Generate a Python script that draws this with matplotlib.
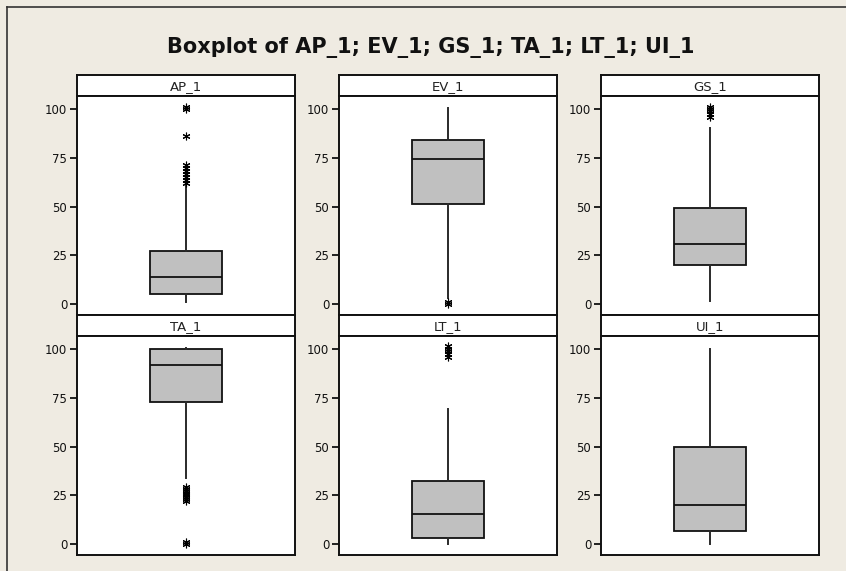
import matplotlib
matplotlib.use("Agg")
import matplotlib.pyplot as plt
from matplotlib.lines import Line2D

# -------------------------------
# Data
# -------------------------------
labels = ['AP_1', 'EV_1', 'GS_1', 'TA_1', 'LT_1', 'UI_1']
q1 = [5.0, 51.5, 20.0, 73.0, 3.2, 6.8]
median = [13.7, 74.3, 31.0, 91.7, 15.6, 19.8]
q3 = [27.3, 84.0, 49.3, 100.0, 32.3, 49.8]
whisker_low = [1.2, 3.0, 1.5, 34.0, 0.0, 0.0]
whisker_high = [61.0, 100.5, 90.3, 100.5, 69.0, 100.0]
outliers = [
    [62, 63.5, 65, 66.5, 68, 70, 71.5, 86, 100, 101],
    [0, 1],
    [96, 97.5, 99, 100, 101],
    [0, 1, 22, 23, 24, 25, 25.5, 26, 27, 28, 29],
    [96, 97.5, 99, 100, 101.5],
    [],
]
yticks = [0, 25, 50, 75, 100]

# -------------------------------
# Layout (pixels)
# -------------------------------
W, H = 846, 571
bg = '#EFEBE2'
col_left = [77, 339, 601]
panel_w = 218
strip_h = 21
row_top = [75, 315]
row_bottom = [315, 555]
zero_offset = 11       # px from axis bottom to y=0
px_per_unit = 1.95

fig = plt.figure(figsize=(W / 100, H / 100), dpi=100, facecolor=bg)

def fig_rect(x0, y0, w, h):
    return [x0 / W, 1 - (y0 + h) / H, w / W, h / H]

fig.text(431 / W, 1 - 48 / H, 'Boxplot of AP_1; EV_1; GS_1; TA_1; LT_1; UI_1',
         ha='center', va='center', fontsize=15, fontweight='bold',
         family='DejaVu Sans', color='#111111')

# outer frame (left and top only, rest is cropped)
fig.add_artist(Line2D([7 / W, 7 / W], [0, 1 - 7 / H], transform=fig.transFigure,
                      color='#333333', lw=1.2))
fig.add_artist(Line2D([7 / W, 1], [1 - 7 / H, 1 - 7 / H], transform=fig.transFigure,
                      color='#333333', lw=1.2))

for i, name in enumerate(labels):
    r, c = divmod(i, 3)
    x0 = col_left[c]
    top = row_top[r]
    ax_top = top + strip_h
    ax_h = row_bottom[r] - ax_top

    # strip with panel label
    sax = fig.add_axes(fig_rect(x0, top, panel_w, strip_h))
    sax.set_facecolor('white')
    sax.set_xticks([])
    sax.set_yticks([])
    for s in sax.spines.values():
        s.set_linewidth(1.4)
        s.set_color('#111111')
    sax.text(0.5, 0.45, name, ha='center', va='center', fontsize=9.5,
             transform=sax.transAxes, color='#222222')

    ax = fig.add_axes(fig_rect(x0, ax_top, panel_w, ax_h))
    ax.set_facecolor('white')
    stats = [{
        'med': median[i], 'q1': q1[i], 'q3': q3[i],
        'whislo': whisker_low[i], 'whishi': whisker_high[i],
        'fliers': outliers[i],
    }]
    ax.bxp(stats, positions=[1], widths=0.326, patch_artist=True,
           showcaps=False,
           boxprops=dict(facecolor='#C0C0C0', edgecolor='#111111', linewidth=1.3),
           medianprops=dict(color='#111111', linewidth=1.3),
           whiskerprops=dict(color='#2a2a2a', linewidth=1.4),
           flierprops=dict(marker=(6, 2, 0), markersize=5.5, markeredgecolor='black',
                           markeredgewidth=0.8, linestyle='none'))
    ax.set_xlim(0.5, 1.5)
    ax.set_ylim(-zero_offset / px_per_unit, (ax_h - zero_offset) / px_per_unit)
    ax.set_xticks([])
    ax.set_yticks(yticks)
    ax.set_yticklabels([str(t) for t in yticks])
    ax.tick_params(axis='y', direction='out', length=5, width=1.3, pad=2,
                   labelsize=8.5, colors='#111111')
    for s in ax.spines.values():
        s.set_linewidth(1.4)
        s.set_color('#111111')

fig.savefig('out.png', dpi=100, facecolor=bg)
